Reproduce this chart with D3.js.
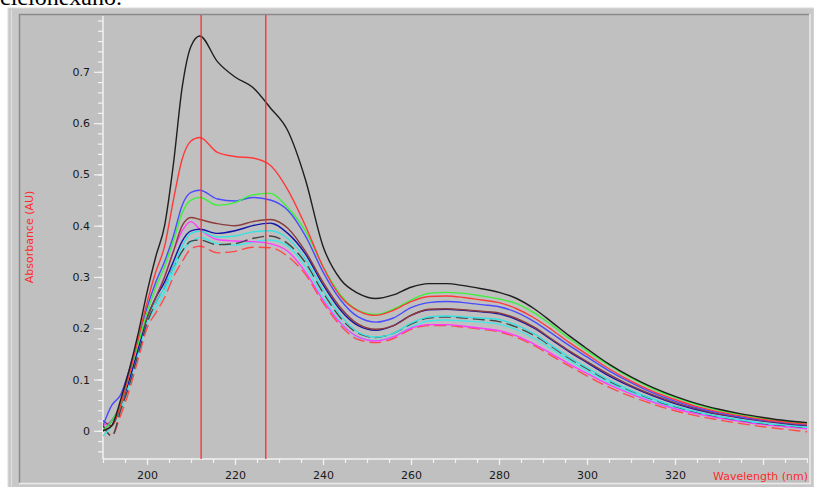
<!DOCTYPE html>
<html>
<head>
<meta charset="utf-8">
<script src="https://cdn.jsdelivr.net/npm/d3@7"></script>
<style>
  html, body { margin: 0; padding: 0; background: #fff; overflow: hidden; }
  svg { display: block; }
</style>
</head>
<body>
<div class="d3"></div>
<script>
// wavelengths (nm) shared by every spectrum
let wavelengths = [190,192,194,196,198,200,202,204,206,208,210,212,216,220,224,228,232,236,240,244,248,252,256,260,264,268,272,276,280,284,288,292,296,300,305,310,315,320,325,330,335,340,345,350];

let blackSeries   = [0.0,0.01,0.06,0.12,0.19,0.27,0.34,0.40,0.52,0.67,0.75,0.77, 0.72,0.69,0.67,0.63,0.585,0.49,0.36,0.295,0.268,0.258,0.265,0.28,0.287,0.287,0.283,0.277,0.27,0.258,0.238,0.212,0.185,0.16,0.13,0.105,0.084,0.067,0.053,0.042,0.033,0.026,0.02,0.016];
let redSeries     = [0.0,0.01,0.05,0.11,0.18,0.25,0.31,0.36,0.45,0.53,0.565,0.572, 0.543,0.535,0.532,0.518,0.47,0.40,0.32,0.262,0.234,0.225,0.235,0.252,0.262,0.263,0.26,0.255,0.25,0.238,0.22,0.197,0.172,0.149,0.121,0.097,0.077,0.061,0.047,0.037,0.029,0.022,0.017,0.013];
let blueSeries    = [0.01,0.05,0.07,0.12,0.18,0.24,0.29,0.33,0.38,0.44,0.465,0.469, 0.452,0.448,0.455,0.45,0.43,0.38,0.31,0.255,0.222,0.212,0.22,0.24,0.25,0.252,0.25,0.246,0.242,0.231,0.213,0.19,0.166,0.144,0.117,0.094,0.074,0.058,0.045,0.035,0.027,0.021,0.016,0.012];
let greenSeries   = [0.0,0.02,0.05,0.11,0.17,0.23,0.28,0.32,0.37,0.425,0.45,0.455, 0.44,0.445,0.46,0.463,0.435,0.39,0.32,0.265,0.235,0.227,0.237,0.255,0.268,0.27,0.268,0.263,0.257,0.248,0.23,0.206,0.18,0.156,0.128,0.103,0.082,0.065,0.051,0.04,0.031,0.024,0.018,0.014];
let brownSeries   = [0.02,0.01,0.05,0.11,0.17,0.22,0.26,0.30,0.35,0.40,0.416,0.412, 0.404,0.40,0.408,0.412,0.395,0.35,0.29,0.24,0.208,0.198,0.205,0.225,0.237,0.238,0.236,0.233,0.23,0.219,0.202,0.179,0.156,0.135,0.11,0.088,0.07,0.055,0.043,0.033,0.026,0.02,0.015,0.011];
let navySeries    = [0.0,0.02,0.05,0.10,0.16,0.22,0.26,0.29,0.33,0.37,0.39,0.393, 0.385,0.39,0.40,0.405,0.385,0.345,0.285,0.235,0.205,0.196,0.205,0.225,0.236,0.237,0.235,0.232,0.228,0.217,0.2,0.177,0.154,0.133,0.107,0.086,0.068,0.053,0.041,0.032,0.025,0.019,0.014,0.01];
let magentaSeries = [0.01,0.02,0.05,0.10,0.16,0.22,0.26,0.30,0.35,0.39,0.408,0.393, 0.373,0.37,0.369,0.365,0.35,0.31,0.255,0.21,0.183,0.175,0.183,0.2,0.207,0.207,0.204,0.2,0.195,0.185,0.169,0.15,0.13,0.112,0.09,0.072,0.056,0.043,0.033,0.025,0.018,0.012,0.008,0.004];
let cyanSeries    = [-0.01,0.01,0.05,0.10,0.16,0.22,0.25,0.28,0.32,0.36,0.385,0.389, 0.378,0.38,0.388,0.39,0.375,0.335,0.275,0.225,0.192,0.183,0.19,0.21,0.222,0.224,0.222,0.22,0.217,0.206,0.189,0.166,0.143,0.123,0.099,0.079,0.062,0.048,0.037,0.028,0.021,0.015,0.011,0.007];
let greySeries    = [0.01,-0.01,0.04,0.09,0.15,0.21,0.25,0.28,0.32,0.35,0.37,0.372, 0.363,0.365,0.375,0.38,0.365,0.328,0.27,0.22,0.19,0.182,0.19,0.208,0.22,0.222,0.22,0.217,0.213,0.202,0.186,0.164,0.141,0.121,0.097,0.078,0.061,0.047,0.036,0.027,0.02,0.014,0.01,0.006];
let cyan2Series   = [0.0,0.01,0.04,0.09,0.15,0.21,0.24,0.27,0.31,0.35,0.368,0.377, 0.365,0.362,0.368,0.372,0.36,0.32,0.26,0.212,0.182,0.176,0.184,0.202,0.214,0.216,0.214,0.212,0.208,0.197,0.18,0.159,0.137,0.117,0.094,0.075,0.058,0.045,0.034,0.026,0.019,0.013,0.009,0.005];
let red2Series    = [0.01,-0.01,0.03,0.08,0.14,0.20,0.23,0.26,0.30,0.33,0.355,0.36, 0.347,0.35,0.358,0.357,0.34,0.305,0.25,0.205,0.178,0.172,0.18,0.198,0.205,0.205,0.202,0.198,0.193,0.182,0.166,0.146,0.126,0.107,0.085,0.067,0.052,0.039,0.029,0.021,0.014,0.008,0.003,-0.002];

let seriesList = [
  { values: red2Series,    color: '#ff4a4a', dash: '12,5' },
  { values: cyan2Series,   color: '#40e8e8', dash: null },
  { values: magentaSeries, color: '#ff3cff', dash: null },
  { values: greySeries,    color: '#454545', dash: '12,5' },
  { values: cyanSeries,    color: '#38e0e0', dash: null },
  { values: navySeries,    color: '#1414a8', dash: null },
  { values: brownSeries,   color: '#8c3c3c', dash: null },
  { values: blueSeries,    color: '#4a4aff', dash: null },
  { values: greenSeries,   color: '#3cf03c', dash: null },
  { values: redSeries,     color: '#ff3a3a', dash: null },
  { values: blackSeries,   color: '#1e1e1e', dash: null }
];

let markerLines = [212.3, 227];
let xMajorTicks = [200, 220, 240, 260, 280, 300, 320, 340];
let xLabelTicks = [200, 220, 240, 260, 280, 300, 320];
let yMajorTicks = [0, 0.1, 0.2, 0.3, 0.4, 0.5, 0.6, 0.7];

(() => {
  let width = 814;
  let height = 487;
  let plotLeft = 103, plotRight = 807, plotTop = 18, plotBottom = 459;
  let uiFont = 'DejaVu Sans, Verdana, sans-serif';

  let svg = d3.select('.d3')
    .append('svg')
    .attr('width', width)
    .attr('height', height);

  // the document text cut off above the screenshot
  svg.append('text')
    .attr('x', 0)
    .attr('y', 5)
    .attr('font-family', 'Liberation Serif, serif')
    .attr('font-size', 24)
    .attr('fill', '#000')
    .text('ciclohexano.');

  // window frame
  svg.append('rect').attr('x', 8).attr('y', 8).attr('width', 806).attr('height', 480)
    .attr('fill', '#c8c8c8').attr('stroke', '#dcdcdc').attr('stroke-width', 1);
  svg.append('line').attr('x1', 11.5).attr('x2', 11.5).attr('y1', 10).attr('y2', 487).attr('stroke', '#e0e0e0');
  svg.append('rect').attr('x', 19).attr('y', 15).attr('width', 790).attr('height', 468)
    .attr('fill', '#c0c0c0');
  svg.append('line').attr('x1', 19).attr('x2', 809).attr('y1', 14.5).attr('y2', 14.5).attr('stroke', '#8a8a8a').attr('stroke-width', 1.5);
  svg.append('line').attr('x1', 19.5).attr('x2', 19.5).attr('y1', 14).attr('y2', 483).attr('stroke', '#8a8a8a').attr('stroke-width', 1.5);
  svg.append('line').attr('x1', 810).attr('x2', 810).attr('y1', 14).attr('y2', 484).attr('stroke', '#eaeaea').attr('stroke-width', 1.5);
  svg.append('line').attr('x1', 19).attr('x2', 811).attr('y1', 483.5).attr('y2', 483.5).attr('stroke', '#eaeaea').attr('stroke-width', 1.5);

  let x = d3.scaleLinear().domain([190, 350]).range([plotLeft, plotRight]);
  let y = d3.scaleLinear().domain([-0.055, 0.805]).range([plotBottom, plotTop]);

  svg.append('clipPath').attr('id', 'plotclip')
    .append('rect').attr('x', plotLeft).attr('y', 15).attr('width', plotRight - plotLeft + 2).attr('height', plotBottom - 15);

  // axes
  let yMinor = d3.range(-0.04, 0.81, 0.02);
  let xMinor = d3.range(190, 351, 5);

  let axisG = svg.append('g').attr('class', 'axes');

  let yAxisMinor = d3.axisLeft(y).tickValues(yMinor).tickSize(5).tickFormat('');
  let yAxisMajor = d3.axisLeft(y).tickValues(yMajorTicks).tickSize(9).tickPadding(4)
    .tickFormat(d => d === 0 ? '0' : d3.format('.1f')(d));
  let xAxisMinor = d3.axisBottom(x).tickValues(xMinor).tickSize(4).tickFormat('');
  let xAxisMajor = d3.axisBottom(x).tickValues(xMajorTicks).tickSize(6).tickPadding(6)
    .tickFormat(d => xLabelTicks.includes(d) ? d : '');

  function styleAxis(g) {
    g.select('.domain').remove();
    g.selectAll('.tick line').attr('stroke', '#f2f2f2').attr('stroke-width', 1.2);
    g.selectAll('.tick text').attr('fill', '#1a1a1a')
      .attr('font-family', uiFont).attr('font-size', 11);
  }

  axisG.append('g').attr('transform', `translate(${plotLeft},0)`).call(yAxisMinor).call(styleAxis);
  axisG.append('g').attr('transform', `translate(${plotLeft},0)`).call(yAxisMajor).call(styleAxis);
  axisG.append('g').attr('transform', `translate(0,${plotBottom})`).call(xAxisMinor).call(styleAxis);
  axisG.append('g').attr('transform', `translate(0,${plotBottom})`).call(xAxisMajor).call(styleAxis);

  // axis lines
  axisG.append('line').attr('x1', plotLeft).attr('x2', plotLeft).attr('y1', plotTop - 2).attr('y2', plotBottom)
    .attr('stroke', '#f2f2f2').attr('stroke-width', 1.5);
  axisG.append('line').attr('x1', plotLeft).attr('x2', plotRight + 1).attr('y1', plotBottom).attr('y2', plotBottom)
    .attr('stroke', '#f2f2f2').attr('stroke-width', 1.5);

  // spectra
  let line = d3.line()
    .x((d, i) => x(wavelengths[i]))
    .y(d => y(d))
    .curve(d3.curveMonotoneX);

  let spectra = svg.append('g').attr('clip-path', 'url(#plotclip)');

  spectra.selectAll('path')
    .data(seriesList)
    .enter()
    .append('path')
    .attr('fill', 'none')
    .attr('stroke', d => d.color)
    .attr('stroke-width', 1.4)
    .attr('stroke-dasharray', d => d.dash)
    .attr('d', d => line(d.values));

  // marker lines
  svg.append('g').selectAll('line')
    .data(markerLines)
    .enter()
    .append('line')
    .attr('x1', d => x(d)).attr('x2', d => x(d))
    .attr('y1', 15).attr('y2', plotBottom)
    .attr('stroke', '#ff2a2a')
    .attr('stroke-width', 1.3);

  // axis titles
  svg.append('text')
    .attr('x', 808)
    .attr('y', 480)
    .attr('text-anchor', 'end')
    .attr('font-family', uiFont)
    .attr('font-size', 11)
    .attr('fill', '#ff2a2a')
    .text('Wavelength (nm)');

  svg.append('text')
    .attr('transform', 'translate(33,237) rotate(-90)')
    .attr('text-anchor', 'middle')
    .attr('font-family', uiFont)
    .attr('font-size', 11)
    .attr('fill', '#ff2a2a')
    .text('Absorbance (AU)');
})();
</script>
</body>
</html>
